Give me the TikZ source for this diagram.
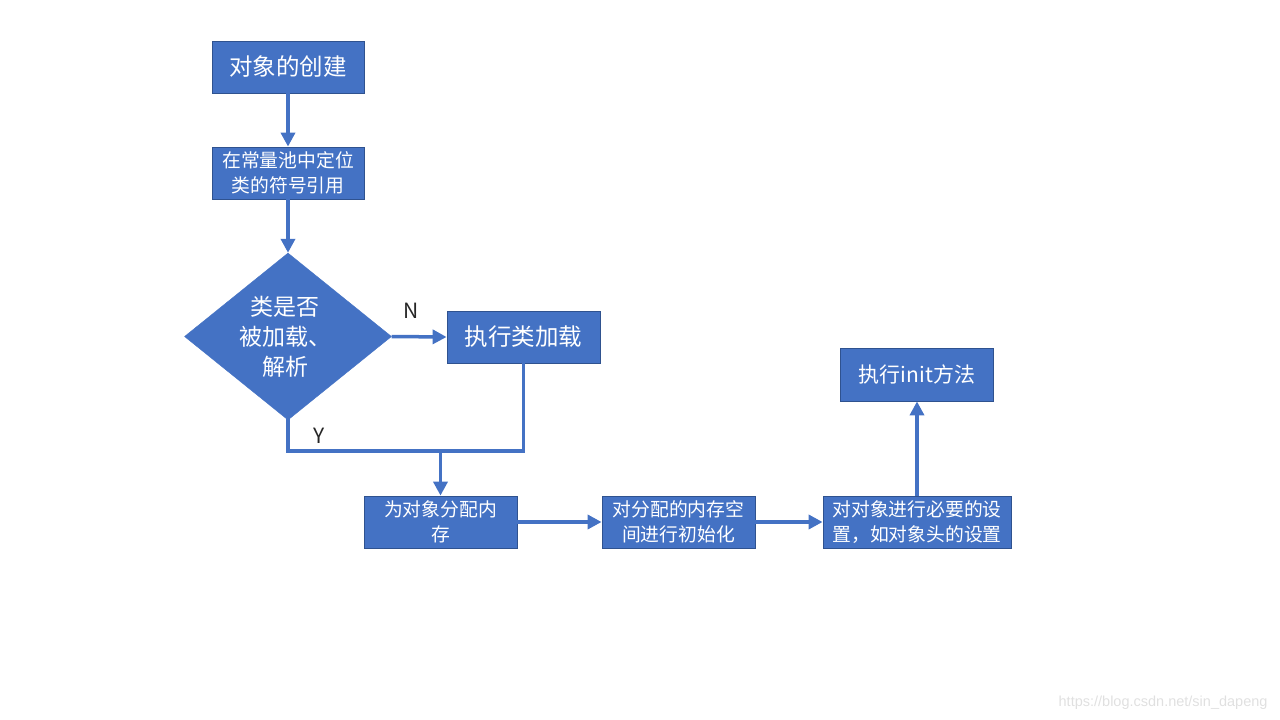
\documentclass[tikz,border=0pt]{standalone}
\usepackage{fontspec}
\setmainfont{Noto Sans CJK SC}
\newfontfamily\wmfont{Liberation Sans}
\usetikzlibrary{arrows.meta,shapes.geometric}
\definecolor{boxblue}{HTML}{4472C4}
\definecolor{boxedge}{HTML}{2F528F}
\tikzset{
  flowbox/.style={draw=boxedge, line width=0.8pt, fill=boxblue, text=white, minimum height=52pt, inner sep=2pt, align=center},
  bigtxt/.style={font=\fontsize{23.5}{28}\selectfont},
  smalltxt/.style={font=\fontsize{18.8}{25}\selectfont},
  decision/.style={diamond, fill=boxblue, draw=boxblue, text=white, minimum width=207pt, minimum height=167pt, inner sep=0pt, align=center, aspect=1.24},
  conn/.style={draw=boxblue, line width=3.5pt},
  arr/.style={conn, -{Triangle[length=14pt,width=14pt]}},
  lbl/.style={font=\fontsize{21}{24}\selectfont, text=black!85}
}
\begin{document}
\begin{tikzpicture}[x=1pt,y=-1pt]
\useasboundingbox (0,0) rectangle (1280,720);
\node[flowbox,bigtxt,minimum width=152pt] (create) at (288,67) {对象的创建};
\node[flowbox,smalltxt,minimum width=152pt] (locate) at (288,173) {在常量池中定位\\类的符号引用};
\node[decision] (check) at (288,336.5) {};
\node[text=white,align=center,font=\fontsize{23}{30}\selectfont] (checktxt) at (285,337) {类是否\\被加载、\\解析};
\node[flowbox,bigtxt,minimum width=153pt] (load) at (523.5,337) {执行类加载};
\node[flowbox,smalltxt,minimum width=153pt] (alloc) at (440.5,522) {为对象分配内\\存};
\node[flowbox,smalltxt,minimum width=153pt] (init0) at (678.5,522) {对分配的内存空\\间进行初始化};
\node[flowbox,smalltxt,minimum width=188pt] (setup) at (917,522) {对对象进行必要的设\\置，如对象头的设置};
\node[flowbox,font=\fontsize{21}{24}\selectfont,minimum width=153pt,minimum height=53pt] (initm) at (917,374.5) {执行init方法};
\node[lbl] (nlbl) at (411,311) {N};
\node[lbl] (ylbl) at (319,436) {Y};
\coordinate (merge) at (440.5,451);
\draw[arr] (create.south) -- (locate.north);
\draw[arr] (locate.south) -- (check.north);
\draw[arr] (check.east) -- (load.west);
\draw[conn, line cap=rect] (check.south) |- (merge);
\draw[conn, line cap=rect] (load.south) |- (merge);
\draw[arr] (merge) -- (alloc.north);
\draw[arr] (alloc.east) -- (init0.west);
\draw[arr] (init0.east) -- (setup.west);
\draw[arr] (setup.north) -- (initm.south);
\node[font=\wmfont\fontsize{14.5}{16}\selectfont, text=black!12, anchor=east] (wm) at (1271,703) {https://blog.csdn.net/sin\_dapeng};
\end{tikzpicture}
\end{document}
